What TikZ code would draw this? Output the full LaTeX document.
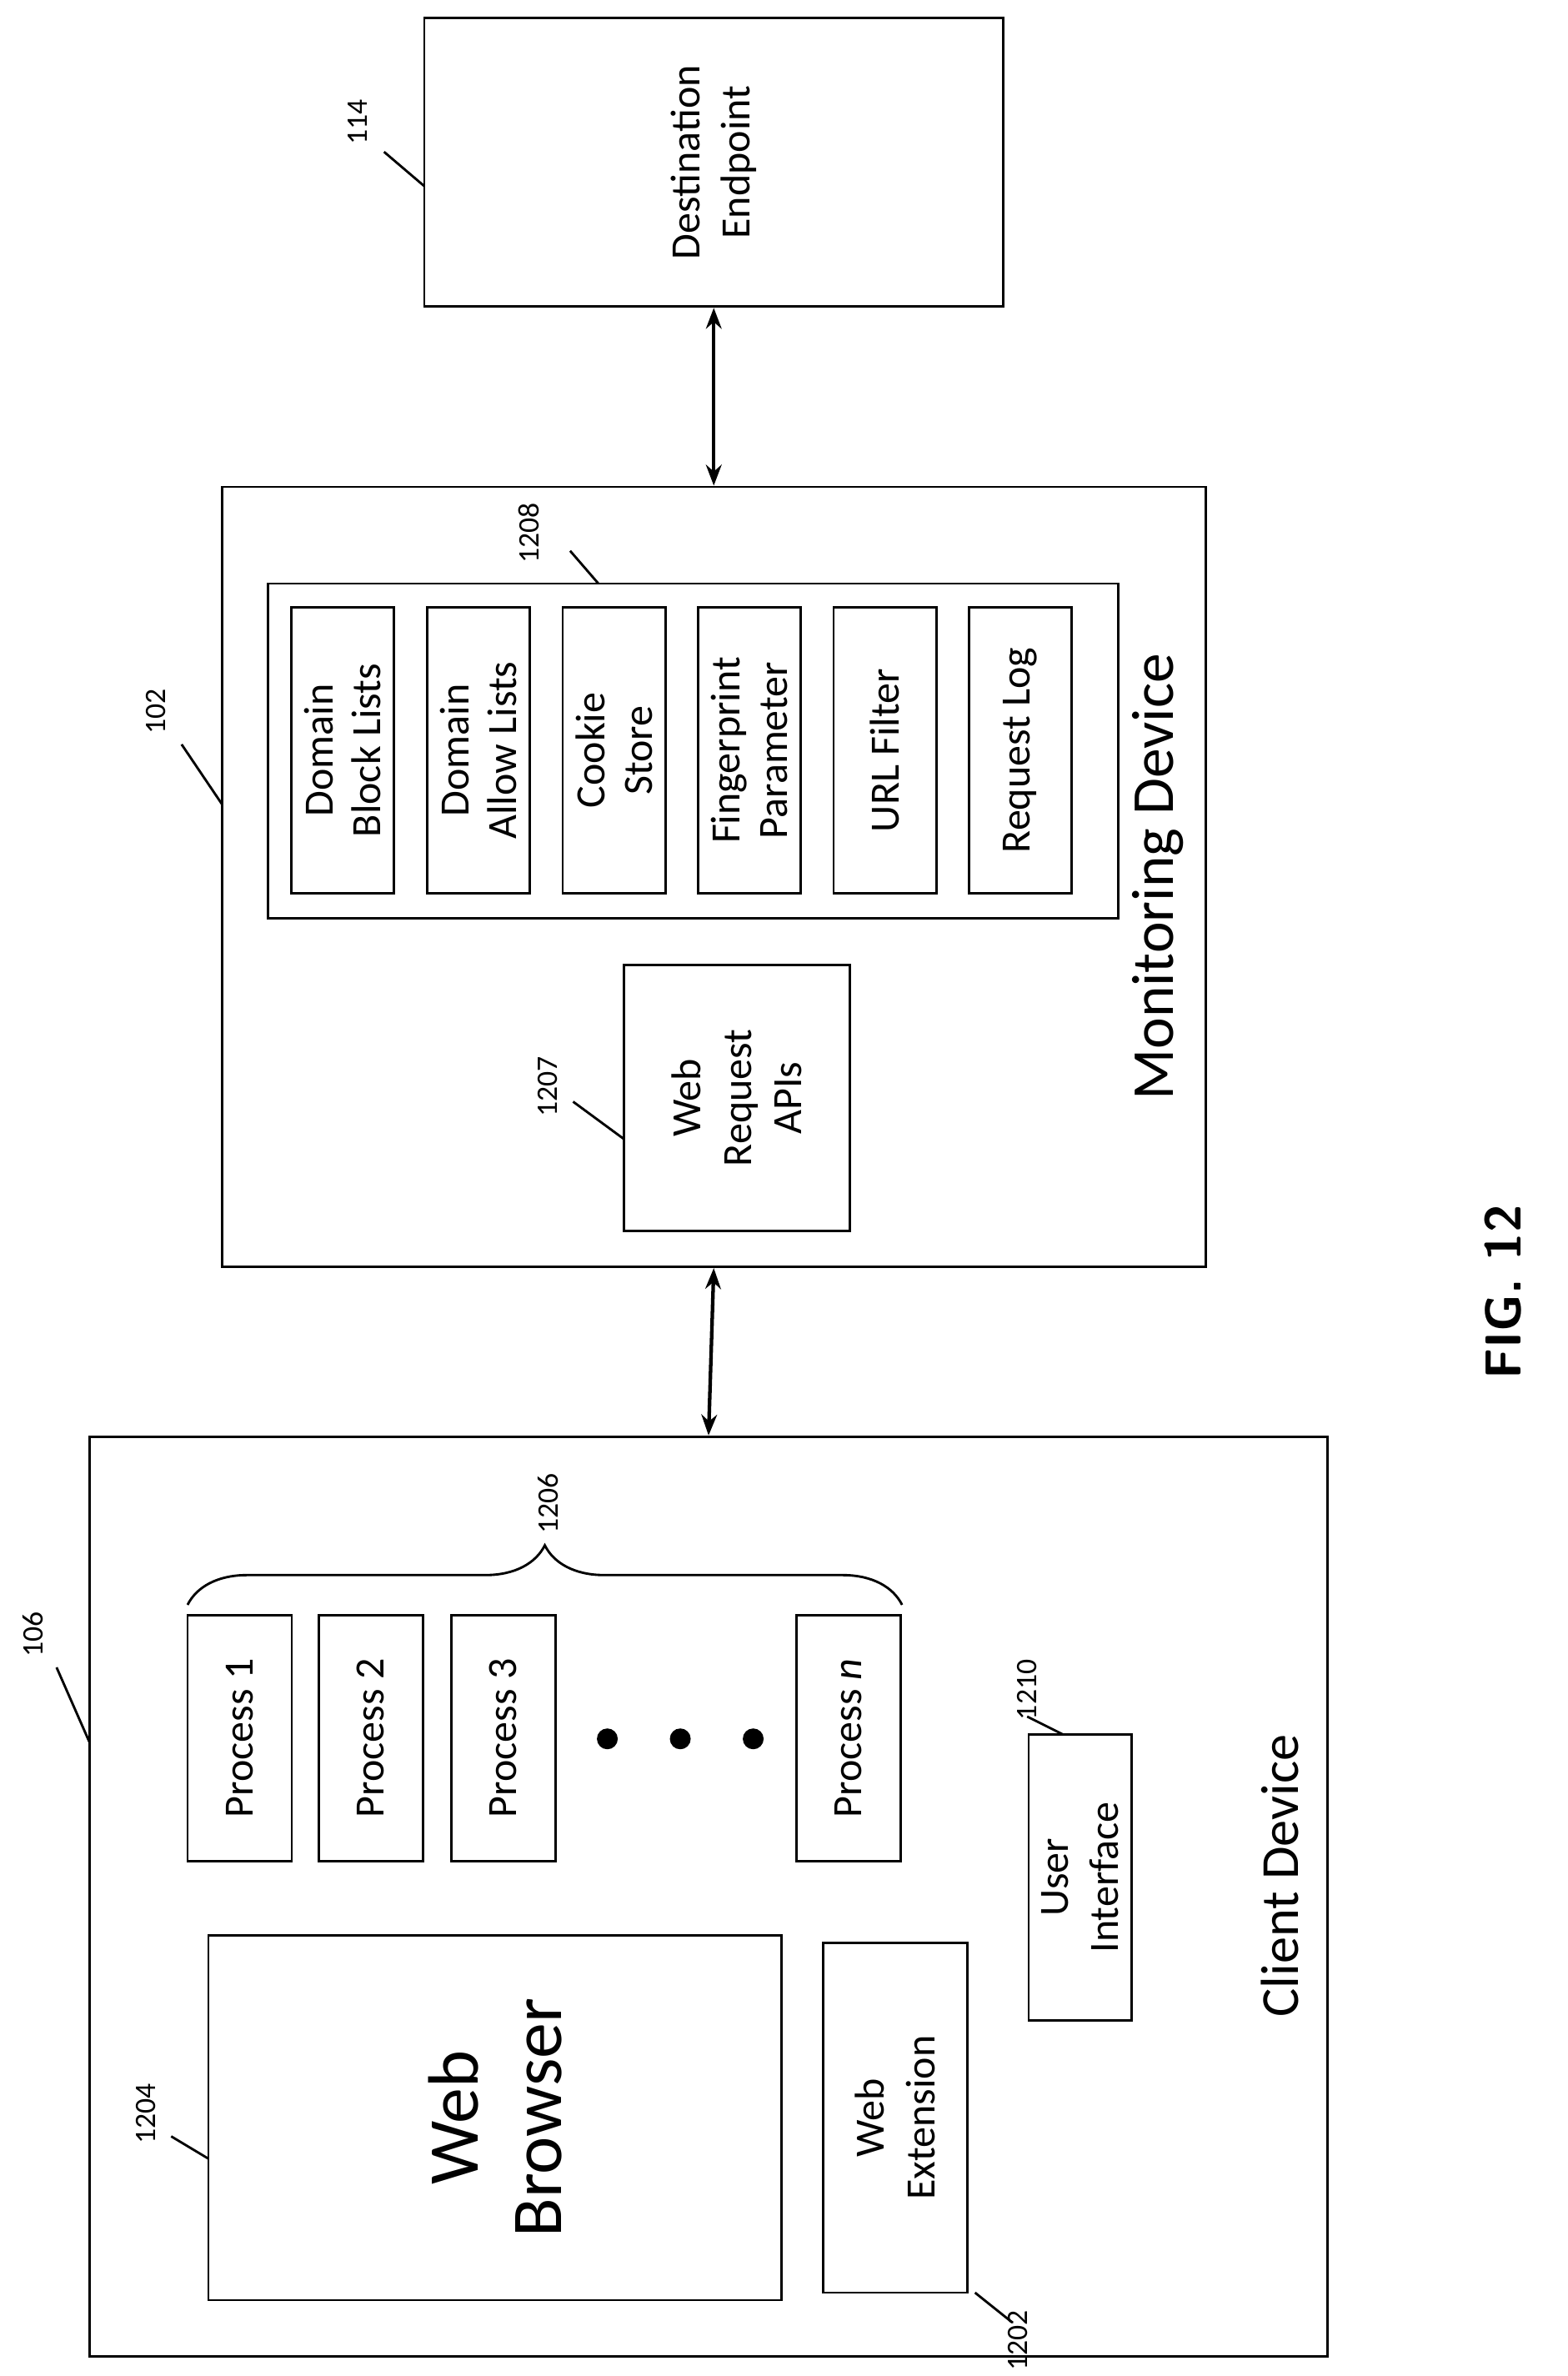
\documentclass[tikz,border=0pt]{standalone}
\usepackage{fontspec}
\setmainfont{Carlito}
\usetikzlibrary{arrows.meta,decorations.pathreplacing}

\tikzset{
    box/.style={draw,thick,rotate=90,align=center,inner sep=0pt},
    lbl/.style={rotate=90,font=\fontsize{10}{12}\selectfont},
    lead/.style={thick},
    link/.style={very thick,{Stealth[length=7pt]}-{Stealth[length=7pt]}}
}

\begin{document}
\begin{tikzpicture}[x=0.5pt,y=-0.5pt]
    \useasboundingbox (0,0) rectangle (1053,1596);
    % destination endpoint
    \node[box,minimum width=97pt,minimum height=194.5pt,font=\fontsize{14}{17}\selectfont] (dest) at (479.5,109) {Destination\\Endpoint};
    \node[lbl] (l114) at (240,82) {114};
    \draw[lead] (258,102) -- (285,125);
    % monitoring device
    \node[box,minimum width=262pt,minimum height=330.5pt] (mon) at (479.5,589) {};
    \node[rotate=90,font=\fontsize{20}{24}\selectfont] (monname) at (778,589) {Monitoring Device};
    \node[lbl] (l102) at (105,478) {102};
    \draw[lead] (122,500) -- (149,540);
    \node[box,minimum width=112.5pt,minimum height=285.5pt] (store) at (465.5,504.5) {};
    \node[lbl] (l1208) at (355,358) {1208};
    \draw[lead] (383,370) -- (402,392);
    \foreach \x/\t in {230/{Domain\\Block Lists},321.5/{Domain\\Allow Lists},412.5/{Cookie\\Store},503.5/{Fingerprint\\Parameter},594.5/{URL Filter},685.5/{Request Log}}
        \node[box,minimum width=96pt,minimum height=34.5pt,font=\fontsize{14}{16}\selectfont] at (\x,504) {\t};
    \node[box,minimum width=89.5pt,minimum height=76pt,font=\fontsize{14}{17}\selectfont] (api) at (495,737.5) {Web\\Request\\APIs};
    \node[lbl] (l1207) at (368,730) {1207};
    \draw[lead] (385,740) -- (419,765);
    % client device
    \node[box,minimum width=309pt,minimum height=416pt] (client) at (476,1274) {};
    \node[rotate=90,font=\fontsize{18}{22}\selectfont] (clientname) at (860,1260) {Client Device};
    \node[lbl] (l106) at (22,1098) {106};
    \draw[lead] (38,1120) -- (60,1170);
    \node[box,minimum width=122.5pt,minimum height=192.5pt,font=\fontsize{24}{28}\selectfont] (browser) at (332.5,1422.5) {Web\\Browser};
    \node[lbl] (l1204) at (98,1420) {1204};
    \draw[lead] (115,1435) -- (140,1450);
    \node[box,minimum width=117.5pt,minimum height=48.5pt,font=\fontsize{14}{17}\selectfont] (ext) at (601.5,1422.5) {Web\\Extension};
    \node[lbl] (l1202) at (684,1572) {1202};
    \draw[lead] (655,1540) -- (680,1560);
    \node[box,minimum width=96pt,minimum height=34.5pt,font=\fontsize{14}{17}\selectfont] (ui) at (725.5,1261) {User\\Interface};
    \node[lbl] (l1210) at (690,1135) {1210};
    \draw[lead] (690,1153) -- (714,1165);
    \foreach \x/\t in {161/1,249/2,338/3}
        \node[box,minimum width=82.5pt,minimum height=35pt,font=\fontsize{14}{16}\selectfont] at (\x,1167.5) {Process \t};
    \node[box,minimum width=82.5pt,minimum height=35pt,font=\fontsize{14}{16}\selectfont] (pn) at (570,1167.5) {Process \textit{n}};
    \foreach \x in {408,457,506}
        \fill (\x,1168) circle (3.5pt);
    \draw[thick,decorate,decoration={brace,amplitude=20pt}] (126,1078) -- (606,1078);
    \node[lbl] (l1206) at (368,1010) {1206};
    % connections
    \draw[link] (dest.west) -- (mon.east);
    \draw[link] (mon.west) -- (client.east);
    \node[rotate=90,font=\bfseries\sffamily\fontsize{17}{20}\selectfont] (fig) at (1010,868) {FIG. 12};
\end{tikzpicture}
\end{document}
